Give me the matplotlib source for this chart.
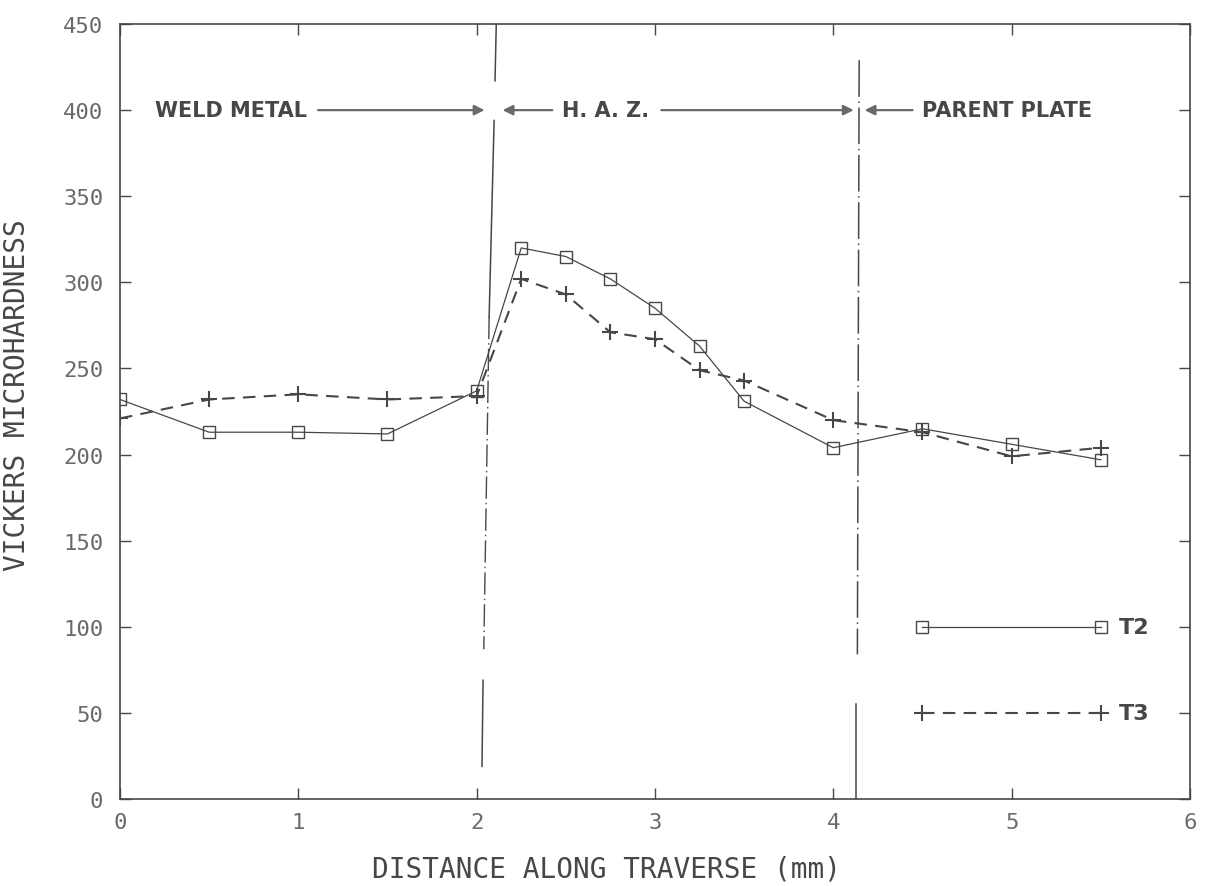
import matplotlib
matplotlib.use('Agg')
from matplotlib import pyplot as plt

# distance along traverse (mm) and hardness readings
dist_t2 = [0, 0.5, 1.0, 1.5, 2.0, 2.25, 2.5, 2.75, 3.0, 3.25, 3.5, 4.0, 4.5, 5.0, 5.5]
hv_t2 = [232, 213, 213, 212, 237, 320, 315, 302, 285, 263, 231, 204, 215, 206, 197]

dist_t3 = [0, 0.5, 1.0, 1.5, 2.0, 2.25, 2.5, 2.75, 3.0, 3.25, 3.5, 4.0, 4.5, 5.0, 5.5]
hv_t3 = [221, 232, 235, 232, 234, 302, 293, 271, 267, 249, 243, 220, 213, 199, 204]

# legend key positions
key_x = [4.5, 5.5]
key_t2 = [100, 100]
key_t3 = [50, 50]

ink = '#474747'
light = '#6a6a6a'
mono = 'DejaVu Sans Mono'

fig = plt.figure(figsize=(12.06, 8.87), dpi=100)
ax = fig.add_axes([0.0995, 0.098, 0.8872, 0.8738])

ax.plot(dist_t2, hv_t2, color=ink, lw=0.9, marker='s', ms=8, mfc='none', mec=ink, mew=1.0)
ax.plot(dist_t3, hv_t3, color=ink, lw=1.5, ls=(0, (6, 4)), marker='+', ms=12, mec=ink, mew=1.5)

# legend drawn as in the plot
ax.plot(key_x, key_t2, color=ink, lw=0.9, marker='s', ms=8, mfc='none', mec=ink, mew=1.0)
ax.plot(key_x, key_t3, color=ink, lw=1.5, ls=(0, (6, 4)), marker='+', ms=12, mec=ink, mew=1.5)
ax.text(5.6, 100, 'T2', fontsize=16, fontweight='bold', color=ink, va='center')
ax.text(5.6, 50, 'T3', fontsize=16, fontweight='bold', color=ink, va='center')

# zone boundary lines (gaps left round the labels)
ax.plot([2.11, 2.103], [450, 417], color=ink, lw=1.1)
ax.plot([2.098, 2.07], [394, 280], color=ink, lw=1.1)
ax.plot([2.07, 2.04], [280, 87], color=ink, lw=1.0, ls=(0, (16, 3, 1, 3)))
ax.plot([2.036, 2.03], [69, 19], color=ink, lw=1.1)
ax.plot([4.145, 4.135], [429, 84], color=ink, lw=1.1, ls=(0, (24, 3, 1, 3)))
ax.plot([4.13, 4.13], [55, 0], color=ink, lw=1.1)

# zone labels with arrows
arrow = dict(arrowstyle='-|>', color='#6a6a6a', lw=1.6, mutation_scale=15)
tk = dict(fontsize=15, fontweight='bold', color=ink, va='center')
ax.text(0.196, 400, 'WELD METAL', **tk)
ax.annotate('', xy=(2.06, 400), xytext=(1.095, 400), arrowprops=arrow)
ax.annotate('', xy=(2.13, 400), xytext=(2.44, 400), arrowprops=arrow)
ax.text(2.48, 400, 'H. A. Z.', **tk)
ax.annotate('', xy=(4.13, 400), xytext=(3.02, 400), arrowprops=arrow)
ax.annotate('', xy=(4.16, 400), xytext=(4.46, 400), arrowprops=arrow)
ax.text(4.5, 400, 'PARENT PLATE', **tk)
ax.annotate('', xy=(6.01, 400), xytext=(5.58, 400), arrowprops=arrow)

ax.set_xlim(0, 6)
ax.set_ylim(0, 450)
ax.set_xticks(range(0, 7))
ax.set_yticks(range(0, 451, 50))
ax.tick_params(direction='in', length=8, width=1.0, color=ink, top=True, right=True,
               labelsize=16, labelcolor=light)
ax.tick_params(axis='x', pad=9)
ax.tick_params(axis='y', pad=12)
for lab in ax.get_xticklabels() + ax.get_yticklabels():
    lab.set_family(mono)
for s in ax.spines.values():
    s.set_color(ink)
    s.set_linewidth(1.2)

ax.set_xlabel('DISTANCE ALONG TRAVERSE (mm)', fontsize=20, family=mono, color=ink)
ax.set_ylabel('VICKERS MICROHARDNESS', fontsize=20, family=mono, color=ink)
ax.xaxis.set_label_coords(0.455, -0.072)
ax.yaxis.set_label_coords(-0.083, 0.523)

fig.savefig('out.png', dpi=100)
